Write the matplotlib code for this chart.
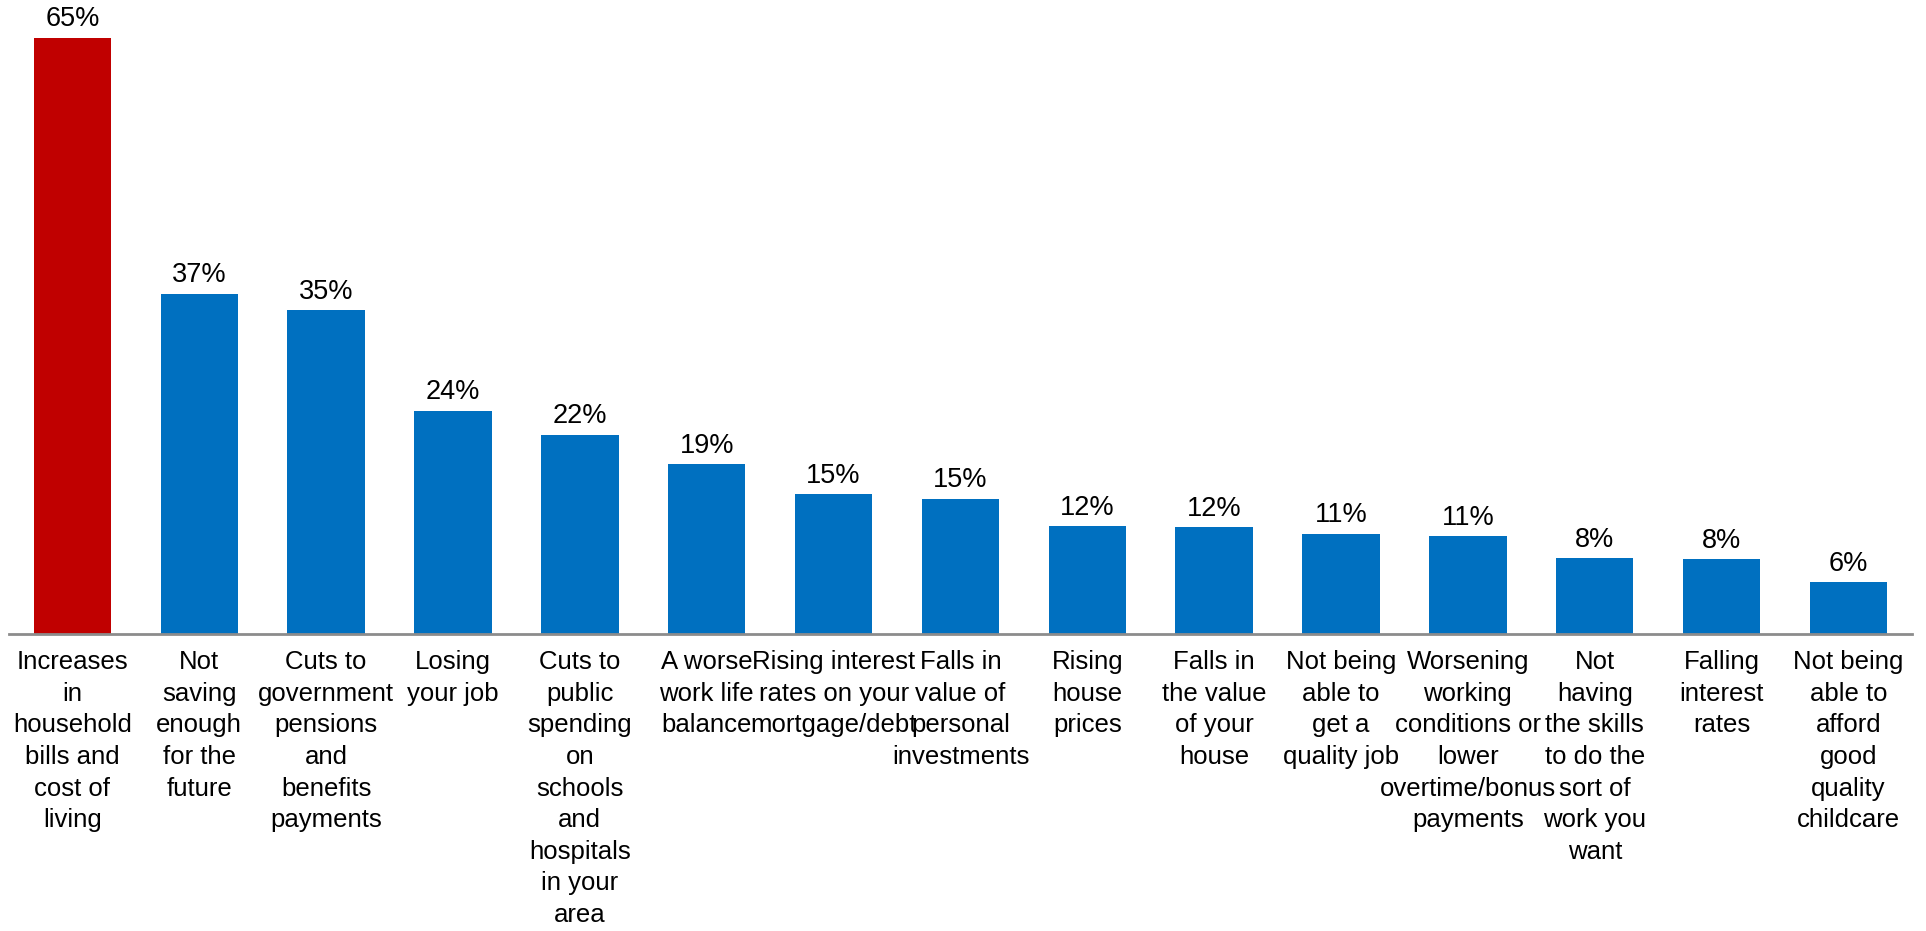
import matplotlib
matplotlib.use("Agg")
import matplotlib.pyplot as plt
import numpy as np

# Share of respondents worried about each issue (%)
categories = [
    "Increases\nin\nhousehold\nbills and\ncost of\nliving",
    "Not\nsaving\nenough\nfor the\nfuture",
    "Cuts to\ngovernment\npensions\nand\nbenefits\npayments",
    "Losing\nyour job",
    "Cuts to\npublic\nspending\non\nschools\nand\nhospitals\nin your\narea",
    "A worse\nwork life\nbalance",
    "Rising interest\nrates on your\nmortgage/debt",
    "Falls in\nvalue of\npersonal\ninvestments",
    "Rising\nhouse\nprices",
    "Falls in\nthe value\nof your\nhouse",
    "Not being\nable to\nget a\nquality job",
    "Worsening\nworking\nconditions or\nlower\novertime/bonus\npayments",
    "Not\nhaving\nthe skills\nto do the\nsort of\nwork you\nwant",
    "Falling\ninterest\nrates",
    "Not being\nable to\nafford\ngood\nquality\nchildcare",
]
values = [65.2, 37.2, 35.4, 24.4, 21.8, 18.6, 15.3, 14.8, 11.8, 11.7,
          11.0, 10.7, 8.3, 8.2, 5.7]

RED = "#C00000"
BLUE = "#0070C0"

plt.rcParams["font.family"] = ["Liberation Sans", "DejaVu Sans"]

fig = plt.figure(figsize=(19.26, 9.31), dpi=100)
ax = fig.add_axes([0.00467, 0.3187, 0.9880, 0.6683])

x = np.arange(len(categories))
colors = [RED] + [BLUE] * (len(categories) - 1)
bars = ax.bar(x, values, width=0.61, color=colors)

for b, v in zip(bars, values):
    ax.annotate(f"{v:.0f}%", (b.get_x() + b.get_width() / 2, v),
                xytext=(0, 4), textcoords="offset points",
                ha="center", va="bottom", fontsize=19.5)

ax.set_xlim(-0.5, len(categories) - 0.5)
ax.set_ylim(0, 68)
ax.set_xticks(x)
ax.set_xticklabels(categories, fontsize=18.5, linespacing=1.40)
ax.tick_params(axis="x", length=0, pad=11.5)
ax.set_yticks([])
for side in ["top", "right", "left"]:
    ax.spines[side].set_visible(False)
ax.spines["bottom"].set_color("#8c8c8c")
ax.spines["bottom"].set_linewidth(2)

fig.savefig("out.png", dpi=100)
